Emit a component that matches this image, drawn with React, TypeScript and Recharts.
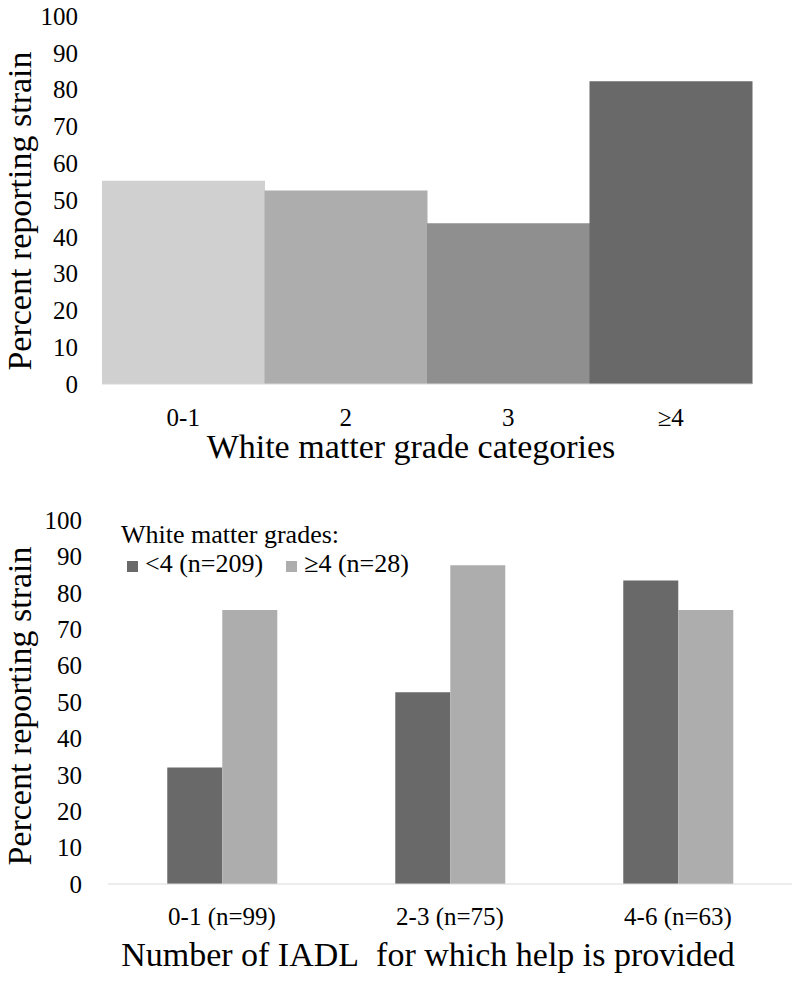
import React from 'react';
import { BarChart, Bar, XAxis, YAxis, Cell, Legend } from 'recharts';

const FONT = 'Liberation Serif, Times New Roman, serif';

// Top panel
const gradeCategories = ['0-1', '2', '3', '≥4'];
const gradeStrain = [55.2, 52.6, 43.7, 82.3];
const gradeColors = ['#d0d0d0', '#adadad', '#8f8f8f', '#696969'];

// Bottom panel
const iadlCategories = ['0-1 (n=99)', '2-3 (n=75)', '4-6 (n=63)'];
const strainLow = [32.0, 52.7, 83.4];
const strainHigh = [75.3, 87.6, 75.3];
const seriesNames = ['<4 (n=209)', '≥4 (n=28)'];
const seriesColors = ['#696969', '#adadad'];

const yTicks = [0, 10, 20, 30, 40, 50, 60, 70, 80, 90, 100];

const topData = gradeCategories.map((c, i) => ({ cat: c, value: gradeStrain[i] }));
const bottomData = iadlCategories.map((c, i) => ({ cat: c, low: strainLow[i], high: strainHigh[i] }));

const tickStyle = { fill: '#000', fontSize: 25, fontFamily: FONT };

const renderLegend = (props: any) => {
  const payload = props.payload || [];
  return (
    <div style={{ fontFamily: FONT, fontSize: 26, color: '#000', whiteSpace: 'nowrap' }}>
      <div style={{ lineHeight: '28px', height: 28 }}>White matter grades:</div>
      <div style={{ lineHeight: '29px', height: 29, display: 'flex', alignItems: 'baseline' }}>
        {payload.map((e: any, i: number) => (
          <span key={i} style={{ display: 'inline-flex', alignItems: 'baseline', marginLeft: i === 0 ? 6 : 23 }}>
            <span style={{ display: 'inline-block', width: 11, height: 11, background: e.color, marginRight: 7 }} />
            <span>{e.value}</span>
          </span>
        ))}
      </div>
    </div>
  );
};

export default function App() {
  return (
    <div style={{ position: 'absolute', left: 0, top: 0, width: 800, height: 982, background: '#fff', fontFamily: FONT }}>
      <div style={{ position: 'absolute', left: 0, top: 0 }}>
        <BarChart
          width={800}
          height={470}
          data={topData}
          margin={{ top: 16, right: 48, bottom: 0, left: 0 }}
          barCategoryGap={0}
          style={{ fontFamily: FONT }}
        >
          <XAxis
            dataKey="cat"
            height={86}
            tickLine={false}
            axisLine={{ stroke: '#d9d9d9' }}
            tickSize={0}
            tickMargin={24}
            tick={tickStyle}
            label={{
              value: 'White matter grade categories',
              position: 'insideBottom',
              offset: 12,
              dx: -16,
              fill: '#000',
              fontSize: 34,
              fontFamily: FONT,
            }}
          />
          <YAxis
            width={102}
            domain={[0, 100]}
            ticks={yTicks}
            interval={0}
            tickLine={false}
            axisLine={false}
            tickSize={0}
            tickMargin={24}
            tick={tickStyle}
            label={{
              value: 'Percent reporting strain',
              angle: -90,
              position: 'center',
              dx: -32,
              dy: 11,
              fill: '#000',
              fontSize: 34,
              fontFamily: FONT,
            }}
          />
          <Bar dataKey="value" isAnimationActive={false}>
            {topData.map((d, i) => (
              <Cell key={d.cat} fill={gradeColors[i]} />
            ))}
          </Bar>
        </BarChart>
      </div>
      <div style={{ position: 'absolute', left: 0, top: 480 }}>
        <BarChart
          width={800}
          height={502}
          data={bottomData}
          margin={{ top: 40, right: 8, bottom: 0, left: 0 }}
          barCategoryGap="26%"
          barGap={0}
          style={{ fontFamily: FONT }}
        >
          <XAxis
            dataKey="cat"
            height={98}
            tickLine={false}
            axisLine={{ stroke: '#d9d9d9' }}
            tickSize={0}
            tickMargin={23}
            tick={tickStyle}
            label={{
              value: 'Number of IADL\u00A0 for which help is provided',
              position: 'insideBottom',
              offset: 16,
              dx: -22,
              fill: '#000',
              fontSize: 34,
              fontFamily: FONT,
            }}
          />
          <YAxis
            width={108}
            domain={[0, 100]}
            ticks={yTicks}
            interval={0}
            tickLine={false}
            axisLine={false}
            tickSize={0}
            tickMargin={26}
            tick={tickStyle}
            label={{
              value: 'Percent reporting strain',
              angle: -90,
              position: 'center',
              dx: -35,
              dy: 4,
              fill: '#000',
              fontSize: 34,
              fontFamily: FONT,
            }}
          />
          <Legend
            layout="horizontal"
            verticalAlign="middle"
            align="center"
            content={renderLegend}
            wrapperStyle={{ top: 41, left: 121, width: 'auto' }}
          />
          <Bar dataKey="low" name={seriesNames[0]} fill={seriesColors[0]} isAnimationActive={false} />
          <Bar dataKey="high" name={seriesNames[1]} fill={seriesColors[1]} isAnimationActive={false} />
        </BarChart>
      </div>
    </div>
  );
}
